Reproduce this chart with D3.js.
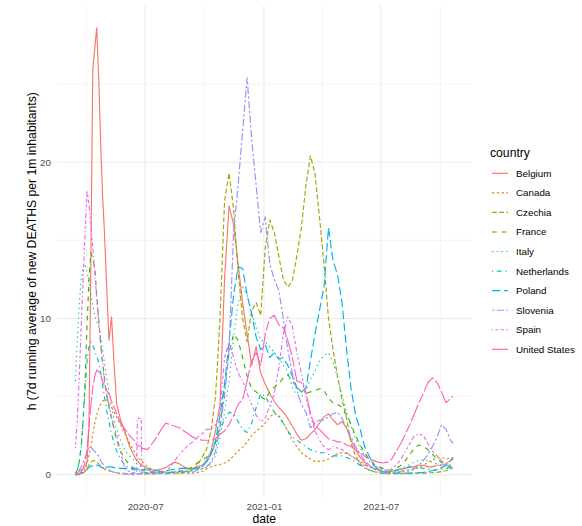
<!DOCTYPE html>
<html><head><meta charset="utf-8">
<script src="https://cdn.jsdelivr.net/npm/d3@7"></script>
<style>body{margin:0;background:#fff}svg{display:block}</style>
</head><body>
<svg id="chart" width="582" height="526"></svg>
<script>
const countries = ["Belgium","Canada","Czechia","France","Italy","Netherlands","Poland","Slovenia","Spain","United States"];

const dates = [
 "2020-03-15","2020-03-18","2020-03-21","2020-03-24","2020-03-27","2020-03-30","2020-04-02","2020-04-05","2020-04-08","2020-04-11",
 "2020-04-14","2020-04-17","2020-04-20","2020-04-23","2020-04-26","2020-04-29","2020-05-02","2020-05-06","2020-05-10","2020-05-14",
 "2020-05-18","2020-05-24","2020-05-31","2020-06-07","2020-06-14","2020-06-18","2020-06-19","2020-06-25","2020-06-26",
 "2020-07-05","2020-07-12","2020-07-19","2020-07-26","2020-08-02","2020-08-09","2020-08-16","2020-08-23","2020-08-30","2020-09-06",
 "2020-09-13","2020-09-20","2020-09-27","2020-10-04","2020-10-11","2020-10-18","2020-10-25","2020-11-01","2020-11-08","2020-11-15",
 "2020-11-22","2020-11-29","2020-12-06","2020-12-13","2020-12-20","2020-12-27","2021-01-03","2021-01-10","2021-01-17","2021-01-24",
 "2021-01-31","2021-02-07","2021-02-14","2021-02-21","2021-02-28","2021-03-07","2021-03-14","2021-03-21","2021-03-28","2021-04-04",
 "2021-04-11","2021-04-18","2021-04-25","2021-05-02","2021-05-09","2021-05-16","2021-05-23","2021-05-30","2021-06-06","2021-06-13",
 "2021-06-20","2021-06-27","2021-07-04","2021-07-11","2021-07-18","2021-07-25","2021-08-01","2021-08-08","2021-08-15","2021-08-22",
 "2021-08-29","2021-09-05","2021-09-12","2021-09-19","2021-09-26","2021-10-03","2021-10-10","2021-10-17","2021-10-21"
];

const belgium = [0.05,0.1,0.2,0.3,0.4,0.5,0.8,3.0,14,26,27.3,28.6,25.5,21.5,18,15.5,12.5,8.6,10.1,7,4.5,3.5,2.7,1.8,1.2,0.9,0.9,0.6,0.6,
 0.4,0.3,0.3,0.35,0.45,0.65,0.8,0.7,0.5,0.4, 0.4,0.5,0.6,0.9,1.5,2.8,4.5,12.5,17.2,16.0,
 13.5,11.0,9.0,7.0,8.2,6.5,5.8,5.2,4.7,4.3, 4.0,3.6,3.1,2.6,2.2,2.3,2.6,2.9,3.3,3.7,
 3.9,3.5,3.2,3.4,3.0,2.2,1.6,1.1,0.8,0.6, 0.4,0.3,0.2,0.2,0.2,0.3,0.35,0.4,0.5,0.5,
 0.6,0.6,0.5,0.5,0.6,0.6,0.7,0.9,1.0];
const canada = [0,0.02,0.05,0.1,0.2,0.35,0.7,1.2,1.8,2.6,3.3,3.8,4.2,4.5,4.7,4.8,4.8,4.6,4.3,4.0,3.7,3.2,2.6,2.0,1.5,1.2,1.1,0.9,0.85,
 0.5,0.35,0.25,0.2,0.15,0.12,0.12,0.1,0.1,0.1, 0.1,0.15,0.2,0.35,0.5,0.6,0.65,0.75,0.9,1.2,
 1.5,1.75,2.1,2.5,2.8,3.0,3.3,3.7,3.9,3.8, 3.3,2.8,2.2,1.8,1.4,1.2,1.0,0.85,0.85,0.9,
 1.0,1.2,1.35,1.4,1.35,1.2,1.0,0.85,0.7,0.5, 0.35,0.25,0.2,0.15,0.12,0.12,0.15,0.2,0.25,0.35,
 0.45,0.6,0.8,0.95,1.05,1.1,1.0,1.05,1.1];
const czechia = [0,0,0.02,0.05,0.1,0.2,0.4,0.6,0.8,0.9,0.9,0.8,0.7,0.55,0.45,0.35,0.3,0.25,0.2,0.15,0.12,0.1,0.08,0.07,0.06,0.05,0.05,0.05,0.05,
 0.05,0.05,0.05,0.08,0.1,0.1,0.1,0.1,0.15,0.2, 0.3,0.6,1.1,1.6,2.8,5.0,10.0,17.5,19.3,17.0,
 13.0,10.0,8.5,10.5,11.0,10.2,14.5,16.3,15.5,14.0, 12.5,12.0,12.4,14.0,15.8,18.5,20.4,19.3,16.5,13.5,
 10.0,8.0,6.3,4.8,3.6,2.0,1.2,0.7,0.45,0.3, 0.2,0.12,0.08,0.06,0.06,0.06,0.06,0.06,0.08,0.1,
 0.1,0.1,0.12,0.12,0.15,0.2,0.25,0.35,0.45];
const france = [0.1,0.3,0.8,1.8,3.5,6.0,9.5,12.5,14.2,13.8,13.2,11.5,10.0,8.5,7.2,6.2,5.2,4.3,3.6,2.9,2.2,1.5,1.0,0.6,0.4,0.35,0.35,0.3,0.3,
 0.2,0.15,0.15,0.15,0.15,0.15,0.2,0.2,0.25,0.35, 0.5,0.75,0.95,1.1,1.4,2.0,3.2,5.5,7.8,9.0,
 8.6,7.5,6.3,5.5,5.3,5.0,4.8,5.3,5.6,5.8, 6.2,6.4,6.0,5.6,5.3,5.2,5.3,5.4,5.5,5.4,
 4.9,4.6,4.5,4.3,3.8,3.2,2.5,1.9,1.4,1.0, 0.7,0.5,0.4,0.3,0.3,0.4,0.6,0.9,1.3,1.7,
 1.9,1.8,1.6,1.3,1.0,0.8,0.6,0.5,0.5];
const italy = [6.0,8.5,11.0,12.5,13.3,13.5,13.0,12.3,11.5,10.8,10.2,9.8,9.5,8.8,8.0,7.2,6.3,5.3,4.4,3.5,2.9,2.2,1.5,1.2,0.9,0.7,0.7,0.5,0.5,
 0.35,0.25,0.2,0.2,0.15,0.15,0.15,0.15,0.15,0.2, 0.25,0.3,0.35,0.45,0.7,1.2,2.4,4.0,6.0,8.8,
 11.0,12.0,11.5,10.3,9.5,8.6,8.5,8.2,7.8,7.5, 7.0,6.6,5.6,5.1,5.0,5.4,6.1,6.6,7.3,7.6,
 7.8,7.2,6.2,5.1,4.0,3.1,2.3,1.7,1.2,0.9, 0.6,0.45,0.35,0.25,0.25,0.3,0.35,0.5,0.65,0.8,
 0.9,0.95,0.9,0.8,0.7,0.6,0.55,0.55,0.6];
const netherlands = [0.1,0.3,0.8,1.8,3.5,5.5,7.2,8.2,8.5,8.3,7.9,7.6,7.2,6.6,5.8,5.0,4.2,3.4,2.6,2.0,1.5,1.0,0.6,0.4,0.3,0.25,0.25,0.2,0.2,
 0.1,0.1,0.1,0.1,0.1,0.12,0.15,0.2,0.2,0.25, 0.3,0.4,0.5,0.8,1.3,2.0,2.9,3.5,4.0,3.9,
 3.4,2.9,2.7,3.3,4.3,5.2,5.0,4.5,4.0,3.7, 3.3,2.8,2.4,2.2,2.0,1.8,1.6,1.5,1.4,1.4,
 1.3,1.2,1.2,1.2,1.1,1.0,0.8,0.6,0.4,0.3, 0.2,0.15,0.1,0.1,0.15,0.25,0.35,0.45,0.5,0.5,
 0.45,0.4,0.35,0.3,0.3,0.35,0.4,0.45,0.5];
const poland = [0,0,0.05,0.1,0.15,0.2,0.35,0.45,0.55,0.55,0.5,0.6,0.6,0.5,0.45,0.45,0.45,0.5,0.5,0.45,0.45,0.4,0.4,0.4,0.4,0.35,0.35,0.35,0.35,
 0.3,0.3,0.25,0.2,0.25,0.3,0.35,0.4,0.4,0.35, 0.35,0.4,0.5,0.8,1.3,2.2,3.8,5.8,8.5,11.5,
 13.3,13.2,11.5,10.3,8.8,8.0,8.3,7.5,7.8,7.4, 7.5,7.0,6.3,5.6,5.3,5.5,7.3,9.0,10.5,12.0,
 15.8,13.7,12.8,11.0,8.0,5.5,3.8,2.9,1.8,1.2, 0.6,0.35,0.2,0.15,0.1,0.1,0.1,0.1,0.1,0.1,
 0.12,0.15,0.2,0.25,0.35,0.45,0.6,0.9,1.1];
const slovenia = [0,0.1,0.3,0.5,0.8,1.1,1.4,1.7,1.8,1.6,1.5,1.3,1.2,0.9,0.7,0.6,0.4,0.3,0.2,0.15,0.1,0.05,0.05,0,0,0.05,0.05,0.1,0.1,
 0.15,0.2,0.15,0.1,0.05,0.1,0.2,0.3,0.2,0.1, 0.15,0.3,0.4,0.5,0.8,1.5,3.0,5.0,8.0,15.5,
 18.5,22.0,25.4,21.5,18.5,15.5,16.5,13.5,12.5,11.8, 10.0,8.0,6.5,5.4,4.5,4.0,3.0,3.3,3.5,3.5,
 3.7,3.9,4.0,3.6,3.0,2.4,1.8,1.3,0.9,0.6, 0.4,0.3,0.2,0.15,0.1,0.15,0.2,0.3,0.3,0.4,
 0.6,0.9,1.3,1.8,2.4,3.2,2.9,2.2,2.0];
const spain = [1.7,3.5,6.3,9.5,12.5,15.5,18.2,17.3,16.0,14.5,13.0,11.3,9.8,8.4,7.2,6.0,5.3,4.4,3.7,3.0,2.5,1.5,0.3,0.2,0.1,0.1,3.6,3.6,0.05,
 0.05,0.1,0.15,0.15,0.2,0.5,0.9,1.3,1.6,1.9, 2.1,2.4,2.6,2.9,2.9,3.2,4.0,7.5,8.5,7.5,
 6.5,6.0,5.2,4.5,3.8,3.4,3.6,4.4,5.2,6.8, 9.0,10.1,9.5,7.8,6.5,5.0,3.8,2.8,2.2,1.8,
 1.6,1.8,1.7,1.6,1.4,1.2,1.0,0.8,0.6,0.5, 0.4,0.35,0.3,0.3,0.4,0.6,1.0,1.5,2.0,2.5,
 2.6,2.5,2.0,1.5,1.2,0.9,0.7,0.6,0.6];
const unitedStates = [0,0.02,0.05,0.15,0.4,0.8,1.6,3.0,4.5,5.6,6.3,6.7,6.6,6.4,6.0,5.7,5.4,5.2,4.7,4.3,3.9,3.3,2.9,2.5,2.2,1.9,1.9,1.8,1.7,
 1.6,2.0,2.4,2.9,3.3,3.2,3.1,3.0,2.8,2.6, 2.4,2.3,2.2,2.2,2.2,2.3,2.6,2.8,3.2,3.8,
 4.5,4.8,6.0,7.3,7.8,7.0,9.0,10.0,10.2,9.6, 9.4,8.6,7.5,6.0,5.9,5.3,3.9,3.1,2.9,2.6,
 2.3,2.2,2.1,2.1,1.9,1.8,1.6,1.4,1.2,1.0, 0.9,0.8,0.75,0.8,1.0,1.5,2.0,2.6,3.2,3.9,
 4.6,5.2,5.9,6.2,5.9,5.3,4.6,4.9,5.0];

const yMajorTicks = [0, 10, 20];
const yMinorTicks = [5, 15, 25];
const xMajorTicks = ["2020-07-01","2021-01-01","2021-07-01"];
const xMinorTicks = ["2020-04-01","2020-10-01","2021-04-01","2021-10-01"];

const seriesValues = [belgium, canada, czechia, france, italy, netherlands, poland, slovenia, spain, unitedStates];
const colors = ["#F8766D","#D89000","#A3A500","#39B600","#00BF7D","#00BFC4","#00B0F6","#9590FF","#E76BF3","#FF62BC"];
const linetypes = ["", "22", "42", "44", "13", "1343", "73", "2262", "12223242", "F282"];

const parse = d3.utcParse("%Y-%m-%d");
const dateObjs = dates.map(parse);
const series = countries.map((c, i) => ({
  name: c, color: colors[i], lt: linetypes[i],
  values: dateObjs.map((d, j) => ({date: d, v: seriesValues[i][j]}))
}));

const svg = d3.select("#chart");
const P = {left: 56.5, right: 472, top: 5.5, bottom: 497};
const font = "'Liberation Sans', Arial, Helvetica, sans-serif";

const [d0, d1] = d3.extent(dateObjs);
const span = d1 - d0;
const x = d3.scaleUtc().domain([new Date(+d0 - span * 0.05), new Date(+d1 + span * 0.05)]).range([P.left, P.right]);
const vmax = d3.max(seriesValues, a => d3.max(a));
const y = d3.scaleLinear().domain([-vmax * 0.05, vmax * 1.05]).range([P.bottom, P.top]);

// grid
const g = svg.append("g");
g.selectAll(".ymin").data(yMinorTicks).join("line")
  .attr("x1", P.left).attr("x2", P.right).attr("y1", d => y(d)).attr("y2", d => y(d))
  .attr("stroke", "#EBEBEB").attr("stroke-width", 0.55);
g.selectAll(".xmin").data(xMinorTicks.map(parse)).join("line")
  .attr("y1", P.top).attr("y2", P.bottom).attr("x1", d => x(d)).attr("x2", d => x(d))
  .attr("stroke", "#EBEBEB").attr("stroke-width", 0.55);
g.selectAll(".ymaj").data(yMajorTicks).join("line")
  .attr("x1", P.left).attr("x2", P.right).attr("y1", d => y(d)).attr("y2", d => y(d))
  .attr("stroke", "#EBEBEB").attr("stroke-width", 1.1);
g.selectAll(".xmaj").data(xMajorTicks.map(parse)).join("line")
  .attr("y1", P.top).attr("y2", P.bottom).attr("x1", d => x(d)).attr("x2", d => x(d))
  .attr("stroke", "#EBEBEB").attr("stroke-width", 1.1);

// lines
const u = 1.2;
const dashOf = lt => lt === "" ? null : lt.split("").map(h => (parseInt(h, 16) * u).toFixed(2)).join(" ");
const line = d3.line().x(d => x(d.date)).y(d => y(d.v));
svg.append("g").selectAll("path").data(series).join("path")
  .attr("d", s => line(s.values))
  .attr("fill", "none").attr("stroke", s => s.color).attr("stroke-width", 1.15)
  .attr("stroke-linejoin", "round").attr("stroke-linecap", "butt")
  .attr("stroke-dasharray", s => dashOf(s.lt));

// axes
const xAxis = d3.axisBottom(x).tickValues(xMajorTicks.map(parse)).tickFormat(d3.utcFormat("%Y-%m")).tickSize(0).tickPadding(6);
const ax = svg.append("g").attr("transform", `translate(0,${P.bottom})`).call(xAxis);
ax.select(".domain").remove();
ax.selectAll("text").attr("fill", "#4D4D4D").style("font-family", font).style("font-size", "9.8px");

const yAxis = d3.axisLeft(y).tickValues(yMajorTicks).tickSize(0).tickPadding(5.5);
const ay = svg.append("g").attr("transform", `translate(${P.left},0)`).call(yAxis);
ay.select(".domain").remove();
ay.selectAll("text").attr("fill", "#4D4D4D").style("font-family", font).style("font-size", "9.8px");

svg.append("text").attr("x", (P.left + P.right) / 2).attr("y", 522.5)
  .attr("text-anchor", "middle").style("font-family", font).style("font-size", "12.2px").attr("fill", "#000")
  .text("date");
svg.append("text").attr("transform", `translate(35.5,${(P.top + P.bottom) / 2}) rotate(-90)`)
  .attr("text-anchor", "middle").style("font-family", font).style("font-size", "12.2px").attr("fill", "#000")
  .text("h (7d running average of new DEATHS per 1m inhabitants)");

// legend
const lg = svg.append("g");
lg.append("text").attr("x", 490).attr("y", 156.5).style("font-family", font).style("font-size", "12.2px").attr("fill", "#000").text("country");
const items = lg.selectAll(".it").data(series).join("g").attr("transform", (s, i) => `translate(0,${173.3 + i * 19.56})`);
items.append("line").attr("x1", 492).attr("x2", 508).attr("y1", 0).attr("y2", 0)
  .attr("stroke", s => s.color).attr("stroke-width", 1.15).attr("stroke-dasharray", s => dashOf(s.lt));
items.append("text").attr("x", 516).attr("y", 0).attr("dy", "0.35em")
  .style("font-family", font).style("font-size", "9.8px").attr("fill", "#000").text(s => s.name);
</script>
</body></html>
